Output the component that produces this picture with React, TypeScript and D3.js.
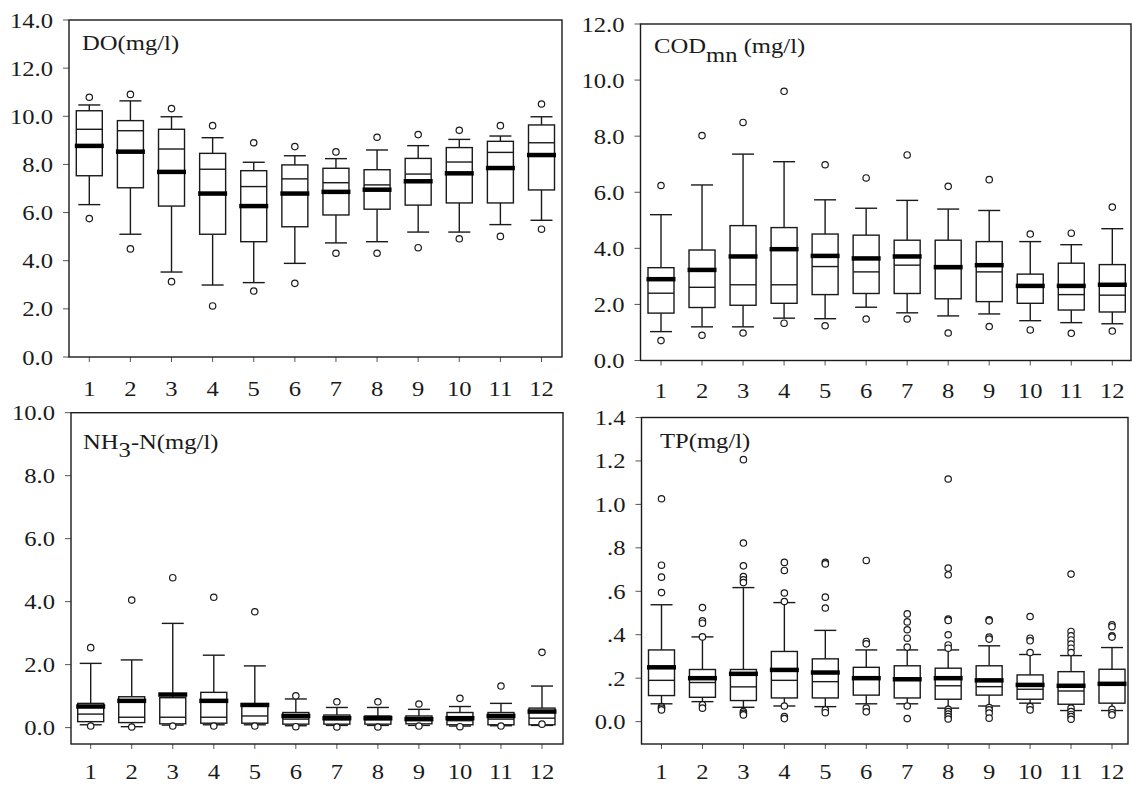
import React from "react";
import * as d3 from "d3";

const monthLabels = ["1", "2", "3", "4", "5", "6", "7", "8", "9", "10", "11", "12"];

// DO (mg/l)
const doLow = [6.33, 5.1, 3.53, 2.99, 3.09, 3.89, 4.74, 4.79, 5.19, 5.19, 5.5, 5.68];
const doQ1 = [7.53, 7.03, 6.27, 5.1, 4.79, 5.41, 5.9, 6.14, 6.31, 6.4, 6.4, 6.94];
const doMedian = [9.46, 9.4, 8.64, 7.8, 7.08, 7.4, 7.24, 7.15, 7.6, 8.1, 8.5, 8.9];
const doQ3 = [10.23, 9.82, 9.46, 8.46, 7.74, 7.98, 7.84, 7.78, 8.25, 8.7, 8.96, 9.64];
const doHigh = [10.47, 10.64, 9.98, 9.11, 8.09, 8.36, 8.24, 8.6, 8.78, 9.04, 9.18, 9.98];
const doMean = [8.77, 8.53, 7.69, 6.79, 6.27, 6.79, 6.86, 6.95, 7.3, 7.63, 7.85, 8.39];
const doOutliers = [[5.75, 10.79], [4.49, 10.91], [3.13, 10.32], [2.12, 9.61], [2.74, 8.9], [3.06, 8.74], [4.31, 8.52], [4.31, 9.13], [4.54, 9.24], [4.91, 9.42], [5.01, 9.61], [5.31, 10.51]];

// COD mn (mg/l)
const codLow = [1.03, 1.2, 1.2, 1.51, 1.49, 1.9, 1.7, 1.59, 1.66, 1.42, 1.35, 1.31];
const codQ1 = [1.69, 1.89, 1.97, 2.04, 2.35, 2.39, 2.39, 2.2, 2.1, 2.04, 1.8, 1.73];
const codMedian = [2.4, 2.61, 2.7, 2.7, 3.35, 3.16, 3.4, 3.28, 3.16, 2.62, 2.35, 2.33];
const codQ3 = [3.31, 3.94, 4.81, 4.74, 4.51, 4.47, 4.29, 4.29, 4.24, 3.08, 3.47, 3.42];
const codHigh = [5.2, 6.26, 7.36, 7.09, 5.73, 5.43, 5.71, 5.4, 5.35, 4.24, 4.13, 4.7];
const codMean = [2.9, 3.23, 3.71, 3.97, 3.73, 3.64, 3.71, 3.33, 3.4, 2.66, 2.66, 2.7];
const codOutliers = [[0.71, 6.24], [0.9, 8.02], [0.98, 8.49], [1.33, 9.6], [1.24, 6.98], [1.48, 6.51], [1.48, 7.33], [0.98, 6.21], [1.21, 6.45], [1.09, 4.51], [0.97, 4.54], [1.05, 5.47]];

// NH3-N (mg/l)
const nhLow = [0.09, 0.03, 0.08, 0.09, 0.09, 0.06, 0.07, 0.07, 0.07, 0.05, 0.06, 0.07];
const nhQ1 = [0.19, 0.16, 0.12, 0.14, 0.14, 0.11, 0.11, 0.11, 0.12, 0.09, 0.09, 0.09];
const nhMedian = [0.43, 0.33, 0.33, 0.33, 0.37, 0.27, 0.25, 0.25, 0.23, 0.22, 0.27, 0.3];
const nhQ3 = [0.77, 0.98, 0.95, 1.12, 0.72, 0.48, 0.4, 0.37, 0.37, 0.48, 0.48, 0.62];
const nhHigh = [2.04, 2.15, 3.31, 2.3, 1.96, 0.91, 0.64, 0.64, 0.58, 0.67, 0.77, 1.32];
const nhMean = [0.67, 0.85, 1.05, 0.85, 0.72, 0.37, 0.3, 0.3, 0.27, 0.3, 0.37, 0.51];
const nhOutliers = [[0.05, 2.54], [0.02, 4.05], [0.05, 4.76], [0.05, 4.14], [0.05, 3.68], [0.03, 1.01], [0.02, 0.82], [0.02, 0.82], [0.05, 0.75], [0.03, 0.93], [0.05, 1.32], [0.11, 2.39]];

// TP (mg/l)
const tpLow = [0.082, 0.092, 0.066, 0.072, 0.069, 0.082, 0.082, 0.062, 0.072, 0.085, 0.051, 0.051];
const tpQ1 = [0.12, 0.112, 0.097, 0.109, 0.109, 0.122, 0.109, 0.103, 0.122, 0.103, 0.08, 0.085];
const tpMedian = [0.19, 0.18, 0.16, 0.19, 0.184, 0.2, 0.195, 0.165, 0.161, 0.149, 0.141, 0.17];
const tpQ3 = [0.33, 0.24, 0.24, 0.323, 0.289, 0.25, 0.257, 0.246, 0.257, 0.215, 0.23, 0.241];
const tpHigh = [0.538, 0.39, 0.617, 0.548, 0.42, 0.33, 0.33, 0.33, 0.349, 0.309, 0.304, 0.341];
const tpMean = [0.25, 0.2, 0.22, 0.238, 0.226, 0.2, 0.195, 0.2, 0.19, 0.169, 0.165, 0.174];
const tpOutliers = [
  [1.026, 0.72, 0.665, 0.594, 0.069, 0.062, 0.054],
  [0.525, 0.464, 0.453, 0.39, 0.077, 0.062],
  [1.206, 0.822, 0.717, 0.668, 0.653, 0.64, 0.046, 0.038, 0.031],
  [0.733, 0.696, 0.592, 0.553, 0.072, 0.023, 0.014],
  [0.733, 0.726, 0.573, 0.523, 0.054, 0.041],
  [0.742, 0.369, 0.358, 0.062, 0.045],
  [0.496, 0.459, 0.423, 0.384, 0.343, 0.072, 0.014],
  [1.117, 0.707, 0.676, 0.472, 0.466, 0.4, 0.353, 0.338, 0.057, 0.046, 0.035, 0.023, 0.012],
  [0.469, 0.464, 0.389, 0.38, 0.065, 0.054, 0.039, 0.016],
  [0.484, 0.384, 0.372, 0.318, 0.069, 0.054],
  [0.679, 0.415, 0.395, 0.376, 0.357, 0.338, 0.318, 0.062, 0.046, 0.033, 0.023, 0.011],
  [0.446, 0.437, 0.395, 0.389, 0.057, 0.041, 0.031],
];

const doTicks = [0, 2, 4, 6, 8, 10, 12, 14];
const codTicks = [0, 2, 4, 6, 8, 10, 12];
const nhTicks = [0, 2, 4, 6, 8, 10];
const tpTicks = [0, 0.2, 0.4, 0.6, 0.8, 1.0, 1.2, 1.4];

const FONT = "'Liberation Serif', 'Times New Roman', serif";
const FS = 22;
const SX = 1.12;
const INK = "#1a1a1a";

type Stats = { low: number[]; q1: number[]; med: number[]; q3: number[]; high: number[]; mean: number[]; out: number[][] };

function build(low: number[], q1: number[], med: number[], q3: number[], high: number[], mean: number[], out: number[][]): Stats {
  return { low, q1, med, q3, high, mean, out };
}

const fmt1 = d3.format(".1f");
const fmtTP = (v: number) => (v === 0 ? "0.0" : v >= 1 ? v.toFixed(1) : v.toFixed(1).replace(/^0/, ""));

function Txt({ x, y, anchor, children }: { x: number; y: number; anchor: string; children: any }) {
  return (
    <text transform={`translate(${x},${y}) scale(${SX},1)`} textAnchor={anchor} fontFamily={FONT} fontSize={FS} fill={INK}>
      {children}
    </text>
  );
}

function Panel(props: {
  x0: number; x1: number; yTop: number; yBottom: number; c1: number; c12: number;
  domain: [number, number]; ticks: number[]; fmt: (v: number) => string; stats: Stats;
  labelDy: number; title: any;
}) {
  const { x0, x1, yTop, yBottom, c1, c12, domain, ticks, fmt, stats, labelDy, title } = props;
  const y = d3.scaleLinear().domain(domain).range([yBottom, yTop]);
  const x = d3.scalePoint<string>().domain(monthLabels).range([c1, c12]);
  const boxW = 26, capW = 22, meanW = 29;
  return (
    <g>
      {ticks.map((t) => (
        <g key={"yt" + t}>
          <line x1={x0 - 6} x2={x0} y1={y(t)} y2={y(t)} stroke="#555" strokeWidth={1} />
          <Txt x={x0 - 16} y={y(t) + 7.5} anchor="end">{fmt(t)}</Txt>
        </g>
      ))}
      {monthLabels.map((m) => (
        <g key={"xt" + m}>
          <line x1={x(m)!} x2={x(m)!} y1={yBottom} y2={yBottom + 5} stroke="#555" strokeWidth={1} />
          <Txt x={x(m)!} y={yBottom + labelDy} anchor="middle">{m}</Txt>
        </g>
      ))}
      {monthLabels.map((m, i) => {
        const cx = x(m)!;
        return (
          <g key={"b" + m} stroke={INK} fill="none">
            <line x1={cx} x2={cx} y1={y(stats.high[i])} y2={y(stats.q3[i])} strokeWidth={1.4} />
            <line x1={cx} x2={cx} y1={y(stats.q1[i])} y2={y(stats.low[i])} strokeWidth={1.4} />
            <line x1={cx - capW / 2} x2={cx + capW / 2} y1={y(stats.high[i])} y2={y(stats.high[i])} strokeWidth={1.4} />
            <line x1={cx - capW / 2} x2={cx + capW / 2} y1={y(stats.low[i])} y2={y(stats.low[i])} strokeWidth={1.4} />
            <rect x={cx - boxW / 2} width={boxW} y={y(stats.q3[i])} height={y(stats.q1[i]) - y(stats.q3[i])} strokeWidth={1.4} fill="white" />
            <line x1={cx - boxW / 2} x2={cx + boxW / 2} y1={y(stats.med[i])} y2={y(stats.med[i])} strokeWidth={1.4} />
            <line x1={cx - meanW / 2} x2={cx + meanW / 2} y1={y(stats.mean[i])} y2={y(stats.mean[i])} strokeWidth={4.5} stroke="#000" />
            {stats.out[i].map((o, k) => (
              <circle key={k} cx={cx} cy={y(o)} r={3.2} fill="white" strokeWidth={1.2} />
            ))}
          </g>
        );
      })}
      <rect x={x0} y={yTop} width={x1 - x0} height={yBottom - yTop} fill="none" stroke={INK} strokeWidth={1.4} />
      {title}
    </g>
  );
}

export default function App() {
  const doStats = build(doLow, doQ1, doMedian, doQ3, doHigh, doMean, doOutliers);
  const codStats = build(codLow, codQ1, codMedian, codQ3, codHigh, codMean, codOutliers);
  const nhStats = build(nhLow, nhQ1, nhMedian, nhQ3, nhHigh, nhMean, nhOutliers);
  const tpStats = build(tpLow, tpQ1, tpMedian, tpQ3, tpHigh, tpMean, tpOutliers);
  return (
    <svg width={1132} height={785} style={{ position: "absolute", left: 0, top: 0, background: "white" }}>
      <rect x={0} y={0} width={1132} height={785} fill="white" />
      <Panel x0={69} x1={562} yTop={20} yBottom={357} c1={89.3} c12={541.5} domain={[0, 14]} ticks={doTicks} fmt={fmt1}
        stats={doStats} labelDy={38.5}
        title={<Txt x={82} y={50} anchor="start">DO(mg/l)</Txt>} />
      <Panel x0={640.5} x1={1131} yTop={24} yBottom={360.5} c1={661} c12={1112.3} domain={[0, 12]} ticks={codTicks} fmt={fmt1}
        stats={codStats} labelDy={37}
        title={<Txt x={654} y={53} anchor="start">COD<tspan dy={8.5}>mn</tspan><tspan dy={-8.5}> (mg/l)</tspan></Txt>} />
      <Panel x0={71} x1={563} yTop={412.7} yBottom={744} c1={90.7} c12={542} domain={[-0.52, 10]} ticks={nhTicks} fmt={fmt1}
        stats={nhStats} labelDy={35}
        title={<Txt x={83} y={449} anchor="start">NH<tspan dy={7.5}>3</tspan><tspan dy={-7.5}>-N(mg/l)</tspan></Txt>} />
      <Panel x0={641.5} x1={1128} yTop={417.5} yBottom={744} c1={661.5} c12={1112} domain={[-0.103, 1.4]} ticks={tpTicks} fmt={fmtTP}
        stats={tpStats} labelDy={35}
        title={<Txt x={660} y={448} anchor="start">TP(mg/l)</Txt>} />
    </svg>
  );
}
